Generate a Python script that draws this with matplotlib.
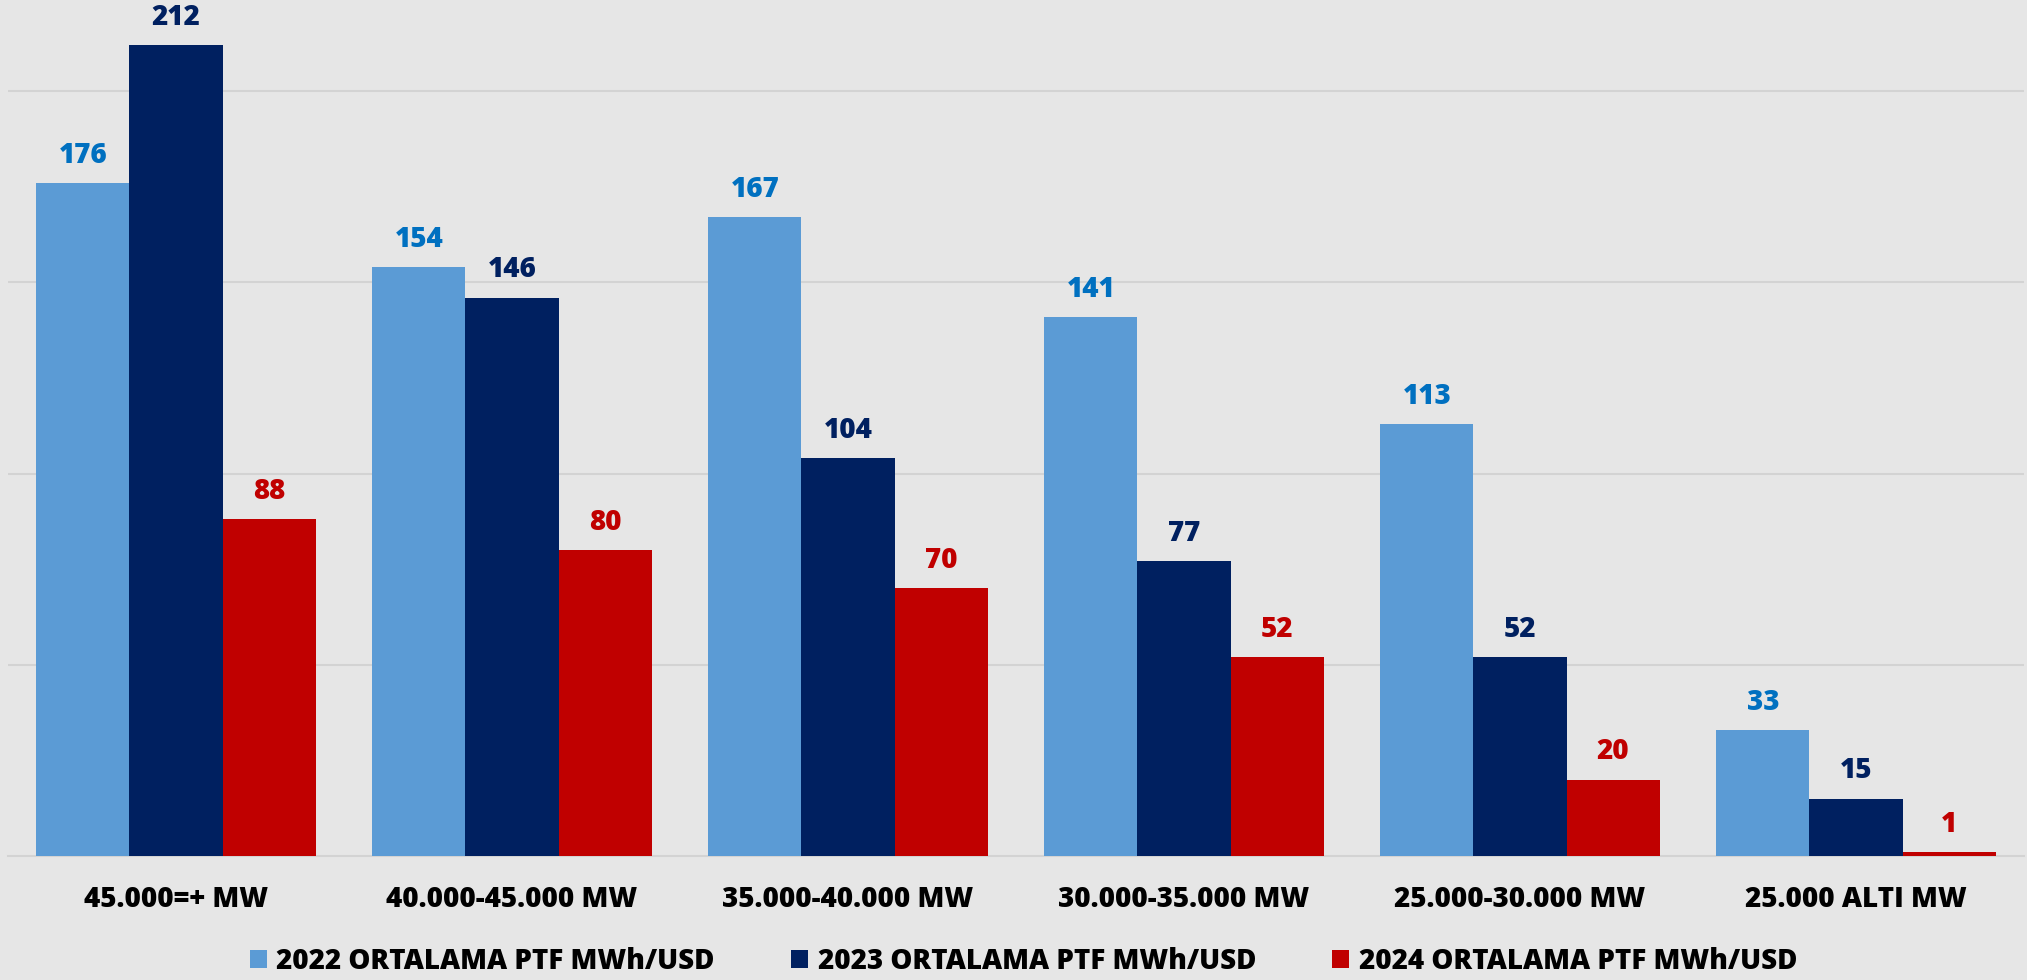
import numpy as np
import matplotlib.pyplot as plt

# data
categories = ['45.000=+ MW', '40.000-45.000 MW', '35.000-40.000 MW',
              '30.000-35.000 MW', '25.000-30.000 MW', '25.000 ALTI MW']
series_names = ['2022 ORTALAMA PTF MWh/USD', '2023 ORTALAMA PTF MWh/USD', '2024 ORTALAMA PTF MWh/USD']
ptf_2022 = [176, 154, 167, 141, 113, 33]
ptf_2023 = [212, 146, 104, 77, 52, 15]
ptf_2024 = [88, 80, 70, 52, 20, 1]

bar_colors = ['#5B9BD5', '#002060', '#C00000']
label_colors = ['#0070C0', '#002060', '#C00000']
bg = '#E6E6E6'
weight = 'heavy'

plt.rcParams['font.family'] = ['Open Sans', 'DejaVu Sans']
plt.rcParams['font.weight'] = weight

fig = plt.figure(figsize=(20.27, 9.8), dpi=100, facecolor=bg)
ax = fig.add_axes([8 / 2027, 1 - 856 / 980, 2016 / 2027, 856 / 980])
ax.set_facecolor(bg)

x = np.arange(len(categories))
width = 0.277
all_series = [ptf_2022, ptf_2023, ptf_2024]
for i, (vals, name) in enumerate(zip(all_series, series_names)):
    bars = ax.bar(x + (i - 1) * width, vals, width, color=bar_colors[i], label=name, zorder=3)
    for b, v in zip(bars, vals):
        ax.annotate(str(v), (b.get_x() + b.get_width() / 2, b.get_height()),
                    xytext=(0, 9.5), textcoords='offset points', ha='center', va='bottom',
                    fontsize=20, fontweight=weight, color=label_colors[i])

ax.set_xlim(-0.5, len(categories) - 0.5)
ax.set_ylim(0, 223.8)
ax.set_yticks([50, 100, 150, 200])
ax.yaxis.grid(True, color='#D3D3D3', linewidth=1.5, zorder=0)
ax.set_axisbelow(True)
ax.tick_params(axis='y', left=False, labelleft=False)
ax.set_xticks(x)
ax.set_xticklabels(categories, fontsize=20, fontweight=weight)
ax.tick_params(axis='x', length=0, pad=21)
for s in ['top', 'left', 'right']:
    ax.spines[s].set_visible(False)
ax.spines['bottom'].set_color('#D3D3D3')
ax.spines['bottom'].set_linewidth(1.5)

fig.legend(loc='center', bbox_to_anchor=(0.505, 0.019), ncol=3, frameon=False,
           prop={'size': 20, 'weight': weight}, handlelength=0.6, handleheight=0.6,
           handletextpad=0.35, columnspacing=2.75)

fig.savefig('out.png', dpi=100, facecolor=bg)
